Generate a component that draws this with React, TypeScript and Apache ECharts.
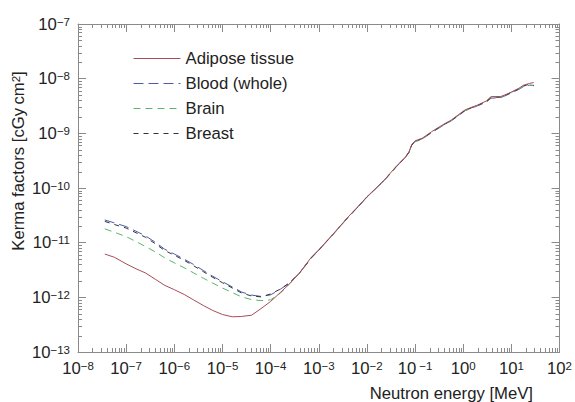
import React, { useEffect, useRef } from "react";
import * as echarts from "echarts";

// Neutron energy [MeV]
const energy = [
  3.6e-8, 5.7e-8, 1e-7, 1.6e-7, 2.5e-7, 4e-7, 6.3e-7, 1e-6, 1.6e-6, 2.5e-6, 4e-6, 6.3e-6,
  1e-5, 1.6e-5, 2.5e-5, 4e-5, 6.3e-5, 1e-4, 1.6e-4, 2.5e-4, 4e-4, 7e-4, 1e-3, 2e-3, 4e-3,
  7e-3, 1e-2, 2.3e-2, 4e-2, 6.3e-2, 7.5e-2, 8.5e-2, 1e-1, 0.14, 0.22, 0.36, 0.57, 1.1, 2,
  3, 3.8, 6, 8, 10, 14, 18, 24, 29,
];

// Kerma factors [cGy cm^2]
const adipose = [
  6.2e-12, 5.4e-12, 4.1e-12, 3.33e-12, 2.8e-12, 2.15e-12, 1.66e-12, 1.38e-12, 1.13e-12, 9.0e-13, 7.1e-13, 5.75e-13,
  4.85e-13, 4.4e-13, 4.47e-13, 4.7e-13, 6.2e-13, 8.4e-13, 1.23e-12, 1.78e-12, 2.8e-12, 5.4e-12, 7.4e-12, 1.45e-11, 2.9e-11,
  4.9e-11, 6.9e-11, 1.4e-10, 2.45e-10, 3.7e-10, 4.6e-10, 6.2e-10, 7.3e-10, 8.1e-10, 1.07e-9, 1.4e-9, 1.76e-9, 2.7e-9, 3.3e-9,
  3.9e-9, 4.7e-9, 4.7e-9, 5.2e-9, 5.7e-9, 6.6e-9, 7.6e-9, 8.2e-9, 8.5e-9,
];
const blood = [
  2.6e-11, 2.3e-11, 1.97e-11, 1.62e-11, 1.34e-11, 1.02e-11, 7.6e-12, 6.2e-12, 5.0e-12, 4.0e-12, 3.1e-12, 2.43e-12,
  1.93e-12, 1.55e-12, 1.25e-12, 1.1e-12, 1.04e-12, 1.11e-12, 1.41e-12, 1.85e-12, 2.8e-12, 5.3e-12, 7.3e-12, 1.43e-11, 2.85e-11,
  4.8e-11, 6.8e-11, 1.38e-10, 2.4e-10, 3.6e-10, 4.5e-10, 6.0e-10, 7.1e-10, 7.9e-10, 1.03e-9, 1.35e-9, 1.7e-9, 2.6e-9, 3.2e-9,
  3.7e-9, 4.4e-9, 4.5e-9, 5.0e-9, 5.5e-9, 6.3e-9, 7.2e-9, 7.6e-9, 7.5e-9,
];
const brain = [
  1.79e-11, 1.55e-11, 1.29e-11, 1.05e-11, 8.55e-12, 6.8e-12, 5.3e-12, 4.27e-12, 3.48e-12, 2.81e-12, 2.24e-12, 1.82e-12,
  1.48e-12, 1.22e-12, 1.02e-12, 9.1e-13, 8.7e-13, 9.0e-13, 1.19e-12, 1.8e-12, 2.75e-12, 5.2e-12, 7.2e-12, 1.42e-11, 2.85e-11,
  4.8e-11, 6.8e-11, 1.37e-10, 2.4e-10, 3.6e-10, 4.5e-10, 6.0e-10, 7.0e-10, 7.8e-10, 1.04e-9, 1.36e-9, 1.72e-9, 2.6e-9, 3.25e-9,
  3.75e-9, 4.5e-9, 4.6e-9, 5.1e-9, 5.6e-9, 6.4e-9, 7.3e-9, 7.7e-9, 7.4e-9,
];
const breast = [
  2.45e-11, 2.15e-11, 1.85e-11, 1.52e-11, 1.26e-11, 9.6e-12, 7.2e-12, 5.9e-12, 4.75e-12, 3.8e-12, 2.95e-12, 2.32e-12,
  1.85e-12, 1.48e-12, 1.2e-12, 1.06e-12, 1.02e-12, 1.15e-12, 1.42e-12, 1.85e-12, 2.8e-12, 5.3e-12, 7.3e-12, 1.44e-11, 2.88e-11,
  4.85e-11, 6.85e-11, 1.39e-10, 2.42e-10, 3.65e-10, 4.55e-10, 6.1e-10, 7.2e-10, 8.0e-10, 1.05e-9, 1.38e-9, 1.73e-9, 2.65e-9, 3.25e-9,
  3.8e-9, 4.55e-9, 4.6e-9, 5.1e-9, 5.6e-9, 6.5e-9, 7.4e-9, 7.9e-9, 7.6e-9,
];

const seriesNames = ["Adipose tissue", "Blood (whole)", "Brain", "Breast"];
const seriesValues = [adipose, blood, brain, breast];
const seriesColors = ["#a84c58", "#4a5ca8", "#5ab46e", "#333333"];
const seriesDash: any[] = ["solid", [10, 5], [7, 5], [5, 5]];

const xDecades = [-8, -7, -6, -5, -4, -3, -2, -1, 0, 1];
const yDecades = [-13, -12, -11, -10, -9, -8];
const minorMultipliers = [2, 3, 4, 5, 6, 7, 8, 9];

const xMinor: number[] = [];
xDecades.forEach((d) => minorMultipliers.forEach((m) => xMinor.push(m * Math.pow(10, d))));
const yMinor: number[] = [];
yDecades.forEach((d) => minorMultipliers.forEach((m) => yMinor.push(m * Math.pow(10, d))));

const FONT = "'Liberation Sans', Arial, Helvetica, sans-serif";
const FS = 16.7;
const AXIS_COLOR = "#8a8a8a";
const TEXT_COLOR = "#222";

function powLabel(v: number) {
  const e = Math.round(Math.log10(v));
  const s = e < 0 ? "\u2212" + Math.abs(e) : String(e);
  return "10{s|" + (e === -1 ? " " + s : s) + "}";
}

const richLabel = {
  s: { fontSize: 11.5, fontFamily: FONT, color: TEXT_COLOR, verticalAlign: "top", lineHeight: 11, padding: [0, 0, 10, 0] },
};

export default function App() {
  const ref = useRef<HTMLDivElement>(null);
  useEffect(() => {
    if (!ref.current) return;
    const chart = echarts.init(ref.current, null, { renderer: "svg" });

    const axisCommon = {
      type: "log",
      logBase: 10,
      interval: 1,
      axisLine: { show: true, onZero: false, lineStyle: { color: AXIS_COLOR, width: 1 } },
      axisTick: { show: true, inside: true, length: 8, lineStyle: { color: AXIS_COLOR } },
      splitLine: { show: false },
      minorTick: { show: false },
    };

    const tickLine = (x1: number, y1: number, x2: number, y2: number) => ({
      type: "line",
      shape: { x1, y1, x2, y2 },
      style: { stroke: AXIS_COLOR, lineWidth: 1 },
    });

    const lineSeries = seriesNames.map((name, i) => ({
      name,
      type: "line",
      xAxisIndex: 0,
      yAxisIndex: 0,
      data: energy.map((e, j) => [e, seriesValues[i][j]]),
      symbol: "none",
      showSymbol: false,
      z: i === 0 ? 5 : 3,
      lineStyle: { color: seriesColors[i], width: 1, type: seriesDash[i] },
      itemStyle: { color: seriesColors[i] },
    }));

    chart.setOption({
      animation: false,
      backgroundColor: "#fff",
      textStyle: { fontFamily: FONT },
      grid: { left: 78, top: 24, right: 9, bottom: 50, containLabel: false },
      legend: {
        data: seriesNames,
        orient: "vertical",
        left: 128,
        top: 45,
        itemWidth: 47,
        itemHeight: 14,
        itemGap: 8,
        itemStyle: { opacity: 0, color: "transparent", borderWidth: 0 },
        lineStyle: { width: 1 },
        textStyle: { fontSize: FS, color: TEXT_COLOR, fontFamily: FONT },
      },
      xAxis: [
        {
          ...axisCommon,
          position: "bottom",
          min: 1e-8,
          max: 1e2,
          axisLabel: {
            formatter: powLabel,
            margin: 8,
            fontSize: FS,
            color: TEXT_COLOR,
            fontFamily: FONT,
            rich: richLabel,
          },
        },
        {
          ...axisCommon,
          position: "top",
          min: 1e-8,
          max: 1e2,
          axisLabel: { show: false },
        },
      ],
      yAxis: [
        {
          ...axisCommon,
          position: "left",
          min: 1e-13,
          max: 1e-7,
          axisLabel: {
            formatter: powLabel,
            margin: 8,
            fontSize: FS,
            color: TEXT_COLOR,
            fontFamily: FONT,
            rich: richLabel,
          },
        },
        {
          ...axisCommon,
          position: "right",
          min: 1e-13,
          max: 1e-7,
          axisLabel: { show: false },
        },
      ],
      graphic: [
        {
          type: "text",
          x: 18,
          y: 161,
          rotation: Math.PI / 2,
          style: {
            text: "Kerma factors [cGy\u2009cm{s|2}]",
            fontSize: FS,
            fontFamily: FONT,
            fill: TEXT_COLOR,
            align: "center",
            verticalAlign: "middle",
            rich: { s: { fontSize: 11.5, fontFamily: FONT, fill: TEXT_COLOR, verticalAlign: "top", lineHeight: 11, padding: [0, 0, 10, 0] } },
          },
        },
        {
          type: "text",
          x: 533,
          y: 393,
          style: {
            text: "Neutron energy [MeV]",
            fontSize: FS,
            fontFamily: FONT,
            fill: TEXT_COLOR,
            align: "right",
            verticalAlign: "middle",
          },
        },
      ],
      series: [
        ...lineSeries,
        {
          type: "custom",
          name: "xMinorTicks",
          xAxisIndex: 0,
          yAxisIndex: 0,
          silent: true,
          clip: false,
          data: xMinor.map((v) => [v, 1e-10]),
          encode: { x: 0, y: 1 },
          renderItem: (params: any, api: any) => {
            const cs = params.coordSys;
            const p = api.coord([api.value(0), api.value(1)]);
            const x = Math.round(p[0]) + 0.5;
            const yb = cs.y + cs.height;
            return {
              type: "group",
              children: [tickLine(x, yb, x, yb - 4), tickLine(x, cs.y, x, cs.y + 4)],
            };
          },
        },
        {
          type: "custom",
          name: "yMinorTicks",
          xAxisIndex: 0,
          yAxisIndex: 0,
          silent: true,
          clip: false,
          data: yMinor.map((v) => [1e-5, v]),
          encode: { x: 0, y: 1 },
          renderItem: (params: any, api: any) => {
            const cs = params.coordSys;
            const p = api.coord([api.value(0), api.value(1)]);
            const y = Math.round(p[1]) + 0.5;
            const xr = cs.x + cs.width;
            return {
              type: "group",
              children: [tickLine(cs.x, y, cs.x + 4, y), tickLine(xr, y, xr - 4, y)],
            };
          },
        },
      ],
    });

    return () => chart.dispose();
  }, []);

  return (
    <div
      ref={ref}
      style={{ position: "fixed", left: 0, top: 0, width: 575, height: 402, background: "#fff" }}
    />
  );
}
